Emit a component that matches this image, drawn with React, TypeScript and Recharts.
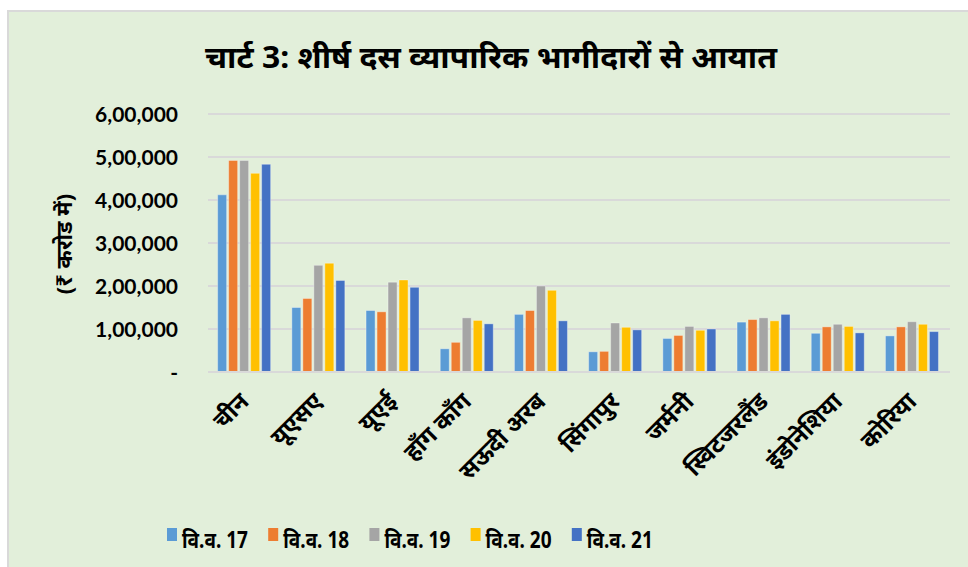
import React from 'react';
import { BarChart, Bar, XAxis, YAxis, CartesianGrid } from 'recharts';

const categories = ['चीन', 'यूएसए', 'यूएई', 'हॉंग कॉंग', 'सऊदी अरब', 'सिंगापुर', 'जर्मनी', 'स्विटजरलैंड', 'इंडोनेशिया', 'कोरिया'];
const fy17 = [412000, 150000, 143000, 54000, 134000, 47000, 78000, 116000, 90000, 84000];
const fy18 = [492000, 171000, 140000, 69000, 143000, 48000, 85000, 122000, 105000, 105000];
const fy19 = [492000, 248000, 209000, 126000, 200000, 114000, 106000, 126000, 111000, 117000];
const fy20 = [462000, 253000, 214000, 120000, 190000, 104000, 97000, 119000, 106000, 111000];
const fy21 = [483000, 213000, 197000, 112000, 119000, 98000, 100000, 134000, 91000, 94000];
const seriesNames = ['वि.व. 17', 'वि.व. 18', 'वि.व. 19', 'वि.व. 20', 'वि.व. 21'];
const seriesKeys = ['fy17', 'fy18', 'fy19', 'fy20', 'fy21'];
const seriesColors = ['#5B9BD5', '#ED7D31', '#A5A5A5', '#FFC000', '#4472C4'];
const yTicks = [0, 100000, 200000, 300000, 400000, 500000, 600000];
const title = 'चार्ट 3: शीर्ष दस व्यापारिक भागीदारों से आयात';
const yLabel = '(₹ करोड में)';

const data = categories.map((c, i) => ({
  name: c,
  fy17: fy17[i],
  fy18: fy18[i],
  fy19: fy19[i],
  fy20: fy20[i],
  fy21: fy21[i],
}));

function indianFormat(v: number): string {
  if (v === 0) return '-';
  const s = String(Math.round(v));
  const last3 = s.slice(-3);
  let rest = s.slice(0, -3);
  const parts: string[] = [];
  while (rest.length > 2) {
    parts.unshift(rest.slice(-2));
    rest = rest.slice(0, -2);
  }
  if (rest.length) parts.unshift(rest);
  return parts.length ? parts.join(',') + ',' + last3 : last3;
}

const XTick = (props: any) => {
  const { x, y, payload } = props;
  const ax = x + 5;
  const ay = y + 23;
  return (
    <text
      x={ax}
      y={ay}
      transform={`rotate(-45 ${ax} ${ay})`}
      textAnchor="end"
      fontSize={24}
      fontWeight="bold"
      fill="#000"
      fontFamily="'Noto Sans', sans-serif"
    >
      {payload.value}
    </text>
  );
};

const YTick = (props: any) => {
  const { x, y, payload } = props;
  return (
    <text
      x={x}
      y={y}
      dy="0.36em"
      textAnchor="end"
      fontSize={21}
      fontWeight="bold"
      fill="#000"
      fontFamily="Lato, sans-serif"
    >
      {indianFormat(payload.value)}
    </text>
  );
};

export default function App() {
  return (
    <div style={{ position: 'absolute', left: 0, top: 0, width: 968, height: 567, background: '#fff', overflow: 'hidden' }}>
      <div
        style={{
          position: 'absolute',
          left: 7,
          top: 10,
          right: 0,
          bottom: 0,
          background: '#E2EFDA',
          borderLeft: '2px solid #D9D9D9',
          borderTop: '2px solid #D9D9D9',
        }}
      />
      <svg style={{ position: 'absolute', left: 0, top: 0 }} width={968} height={567}>
        <text
          x={491}
          y={68}
          textAnchor="middle"
          fontSize={31}
          fontWeight="bold"
          fill="#000"
          fontFamily="'Noto Sans', sans-serif"
          textLength={572}
          lengthAdjust="spacingAndGlyphs"
        >
          {title}
        </text>
        <text
          x={72}
          y={244}
          transform="rotate(-90 72 244)"
          textAnchor="middle"
          fontSize={22}
          fontWeight="bold"
          fill="#000"
          fontFamily="'Noto Sans', sans-serif"
        >
          {yLabel}
        </text>
        {seriesNames.map((n, i) => {
          const lx = 167 + i * 101.2;
          return (
            <g key={n}>
              <rect x={lx} y={528} width={10} height={13} fill={seriesColors[i]} />
              <text
                x={lx + 15}
                y={548}
                fontSize={23}
                fontWeight="bold"
                fill="#000"
                fontFamily="'Noto Sans', sans-serif"
                textLength={66}
                lengthAdjust="spacingAndGlyphs"
              >
                {n}
              </text>
            </g>
          );
        })}
      </svg>
      <div style={{ position: 'absolute', left: 0, top: 0 }}>
        <BarChart
          width={968}
          height={567}
          data={data}
          margin={{ top: 114, right: 18, left: 0, bottom: 0 }}
          barCategoryGap="13%"
          barGap={2}
        >
          <CartesianGrid vertical={false} stroke="#D9D9D9" strokeWidth={2} />
          <XAxis
            dataKey="name"
            height={195}
            interval={0}
            tickLine={false}
            axisLine={{ stroke: '#D9D9D9', strokeWidth: 2 }}
            tick={<XTick />}
          />
          <YAxis
            width={208}
            domain={[0, 600000]}
            ticks={yTicks}
            tickLine={false}
            axisLine={false}
            tickSize={0}
            tickMargin={30}
            tick={<YTick />}
          />
          {seriesKeys.map((k, i) => (
            <Bar
              key={k}
              dataKey={k}
              name={seriesNames[i]}
              fill={seriesColors[i]}
              stroke="#ffffff"
              strokeOpacity={0.35}
              strokeWidth={1}
              isAnimationActive={false}
            />
          ))}
        </BarChart>
      </div>
    </div>
  );
}
